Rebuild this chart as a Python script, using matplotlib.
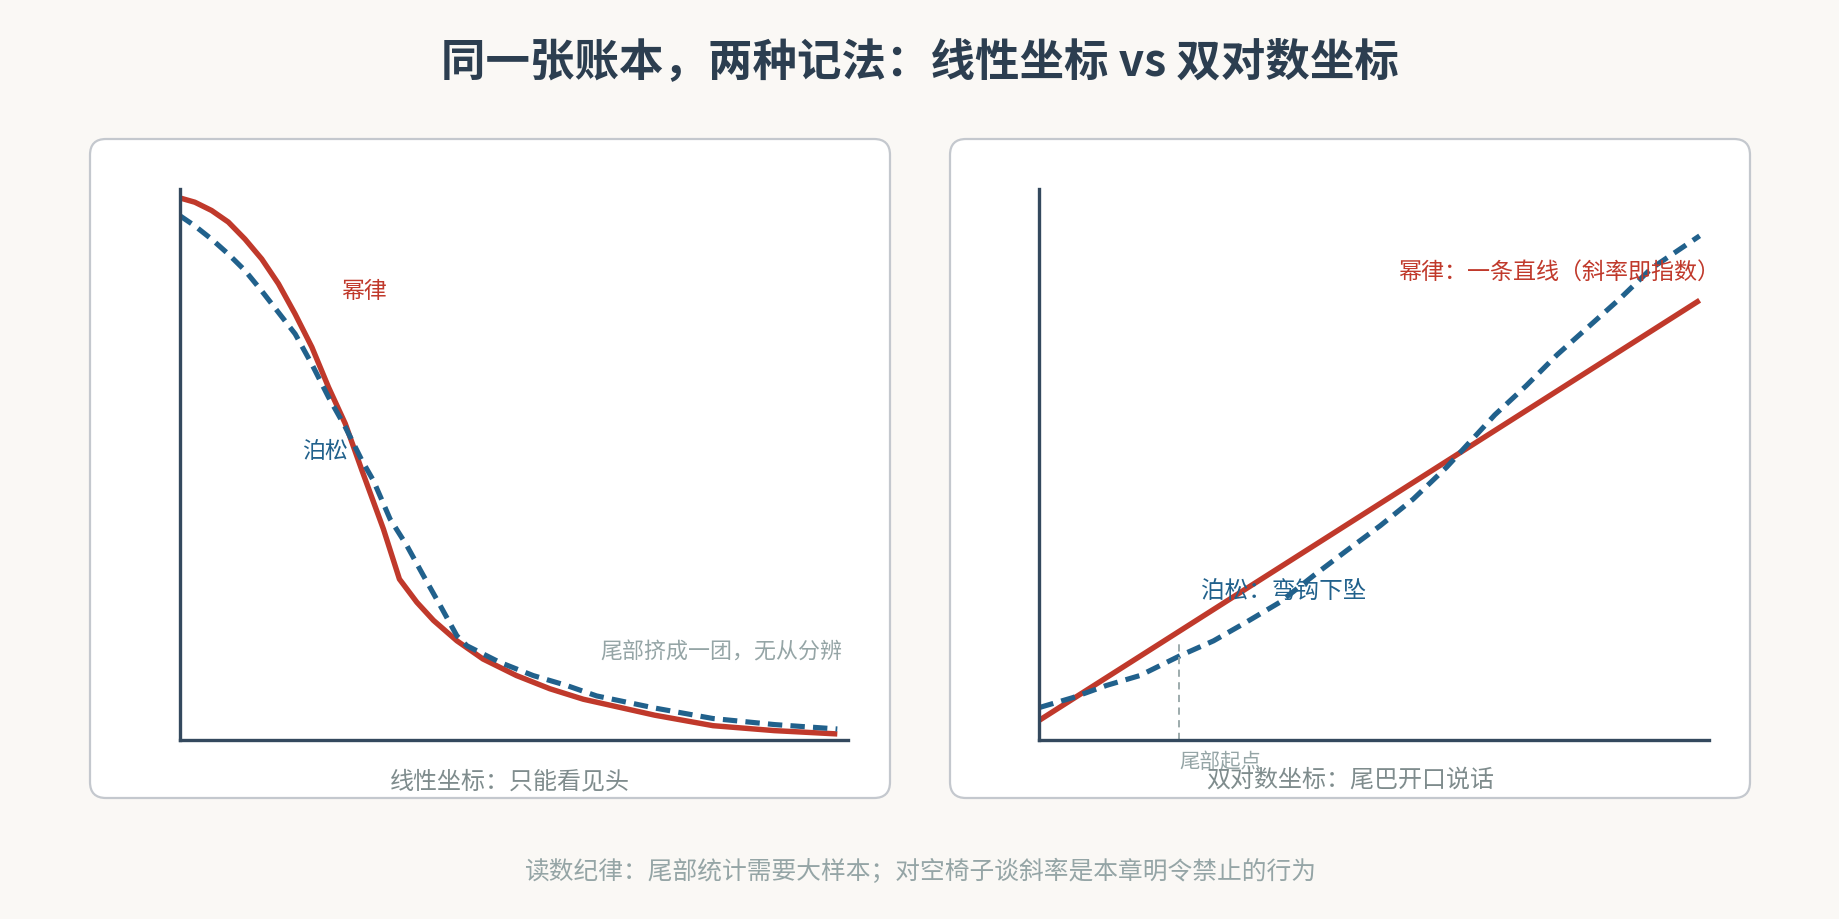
import matplotlib
matplotlib.use("Agg")
import matplotlib.pyplot as plt
from matplotlib.patches import FancyBboxPatch

plt.rcParams['font.family'] = ['Noto Sans CJK SC', 'DejaVu Sans']

# --- data (arbitrary units, axes carry no ticks) ---
# linear panel
lin_x_pl = [0, 0.23, 0.48, 0.73, 0.98, 1.23, 1.48, 1.73, 1.98, 2.23, 2.48, 2.73, 3.05,
            3.29, 3.55, 3.80, 4.15, 4.54, 5.04, 5.54, 6.04, 7.11, 7.98, 8.90, 9.84]
lin_y_pl = [9.84, 9.76, 9.61, 9.40, 9.09, 8.73, 8.28, 7.73, 7.13, 6.40, 5.74, 4.89, 3.83,
            2.92, 2.50, 2.17, 1.80, 1.47, 1.17, 0.93, 0.74, 0.45, 0.26, 0.17, 0.11]
lin_x_po = [0, 0.23, 0.48, 0.73, 0.98, 1.23, 1.48, 1.73, 1.98, 2.23, 2.48, 2.73, 2.90, 3.15,
            3.40, 3.65, 3.90, 4.15, 4.30, 4.79, 5.29, 5.79, 6.24, 7.11, 7.98, 8.90, 9.84]
lin_y_po = [9.52, 9.33, 9.09, 8.82, 8.52, 8.15, 7.76, 7.37, 6.82, 6.22, 5.68, 5.07, 4.71, 4.01,
            3.53, 2.98, 2.44, 1.89, 1.71, 1.41, 1.17, 0.99, 0.80, 0.58, 0.39, 0.28, 0.20]

# log-log panel
log_x_pl = [0, 9.86]
log_y_pl = [0.36, 7.98]
log_x_po = [0, 0.50, 1.00, 1.50, 2.10, 2.60, 3.09, 3.59, 4.09, 4.59, 5.09, 5.58, 6.08,
            6.33, 6.80, 7.27, 7.73, 8.20, 8.67, 9.14, 9.86]
log_y_po = [0.59, 0.77, 0.99, 1.17, 1.53, 1.80, 2.14, 2.50, 2.98, 3.44, 3.89, 4.37, 4.95,
            5.28, 5.90, 6.43, 6.99, 7.50, 8.01, 8.56, 9.15]
tail_start = 2.09
tail_top = 1.83

RED = "#c0392b"
BLUE = "#21618c"
DARK = "#34495e"
GRAY = "#7f8c8d"
LIGHT = "#95a5a6"
BG = "#faf8f5"

W, H = 1840, 920
fig = plt.figure(figsize=(W / 100, H / 100), dpi=100, facecolor=BG)

# background layer in pixel coords for the rounded panels
bg = fig.add_axes([0, 0, 1, 1], zorder=-1)
bg.set_xlim(0, W)
bg.set_ylim(H, 0)
bg.axis("off")
for x0 in (90, 950):
    bg.add_patch(FancyBboxPatch((x0, 140), 800, 659, boxstyle="round,pad=0,rounding_size=16",
                                fc="white", ec="#c4c8ce", lw=1.6))


def make_ax(left_px, right_px):
    ax = fig.add_axes([left_px / W, (H - 741) / H, (right_px - left_px) / W, (741 - 190) / H])
    ax.set_facecolor("none")
    ax.set_xlim(0, 10)
    ax.set_ylim(0, 10)
    ax.set_xticks([])
    ax.set_yticks([])
    for s in ("top", "right"):
        ax.spines[s].set_visible(False)
    for s in ("left", "bottom"):
        ax.spines[s].set_color(DARK)
        ax.spines[s].set_linewidth(2.4)
    return ax


# --- linear panel ---
ax1 = make_ax(179.5, 848)
ax1.plot(lin_x_pl, lin_y_pl, color=RED, lw=3.9, solid_capstyle="butt", solid_joinstyle="round")
ax1.plot(lin_x_po, lin_y_po, color=BLUE, lw=3.7, dashes=(2.8, 1.6))
ax1.text(2.76, 8.15, "幂律", color=RED, fontsize=16.5, ha="center", va="center")
ax1.text(2.17, 5.25, "泊松", color=BLUE, fontsize=16.5, ha="center", va="center")
ax1.text(9.92, 1.60, "尾部挤成一团，无从分辨", color=LIGHT, fontsize=15.8, ha="right", va="center")

# --- log-log panel ---
ax2 = make_ax(1039.5, 1709)
ax2.plot(log_x_pl, log_y_pl, color=RED, lw=3.9, solid_capstyle="butt")
ax2.plot(log_x_po, log_y_po, color=BLUE, lw=3.7, dashes=(2.8, 1.6))
ax2.plot([tail_start, tail_start], [0, tail_top], color=LIGHT, lw=1.3, dashes=(4, 3))
ax2.text(10.16, 8.51, "幂律：一条直线（斜率即指数）", color=RED, fontsize=16.6, ha="right", va="center")
ax2.text(2.41, 2.70, "泊松：弯钩下坠", color=BLUE, fontsize=17, ha="left", va="center")
ax2.text(tail_start, -0.38, "尾部起点", color=LIGHT, fontsize=14.8, ha="left", va="center", clip_on=False)

# --- figure texts ---
fig.text(920 / W, 1 - 62 / H, "同一张账本，两种记法：线性坐标 vs 双对数坐标",
         fontsize=32, fontweight="bold", color="#2c3e50", ha="center", va="center")
fig.text(510 / W, 1 - 781 / H, "线性坐标：只能看见头", fontsize=17.3, color=GRAY, ha="center", va="center")
fig.text(1350 / W, 1 - 781 / H, "双对数坐标：尾巴开口说话", fontsize=17.3, color=GRAY, ha="center", va="center")
fig.text(920 / W, 1 - 872 / H, "读数纪律：尾部统计需要大样本；对空椅子谈斜率是本章明令禁止的行为",
         fontsize=17.8, color=LIGHT, ha="center", va="center")

fig.savefig("out.png", dpi=100, facecolor=BG)
